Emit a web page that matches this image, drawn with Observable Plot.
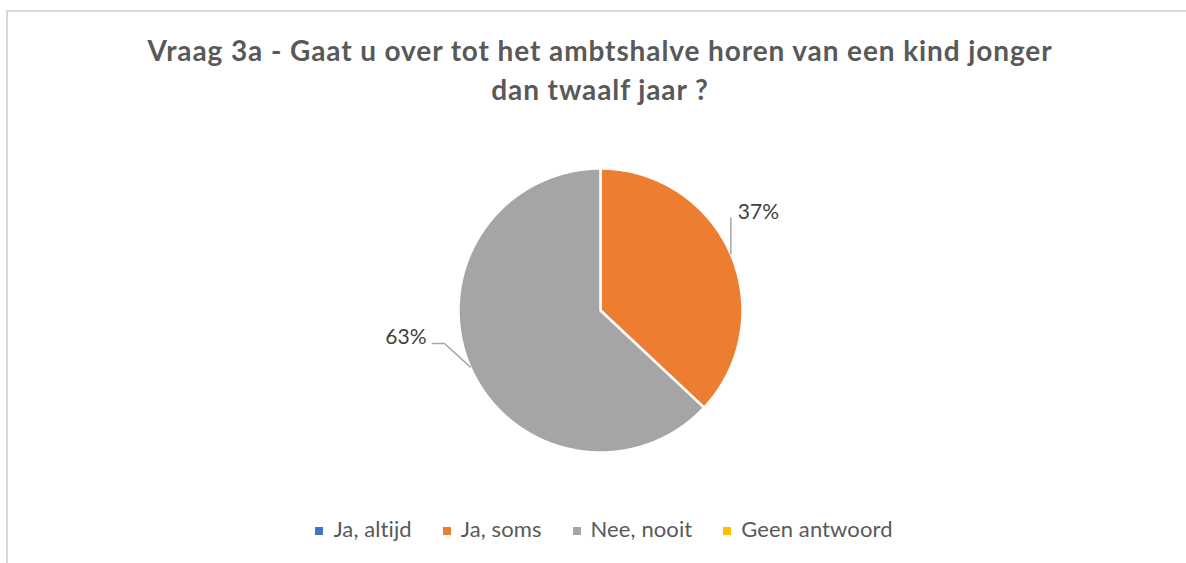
<!DOCTYPE html>
<html>
<head>
<meta charset="utf-8">
<script src="https://cdn.jsdelivr.net/npm/d3@7"></script>
<script src="https://cdn.jsdelivr.net/npm/@observablehq/plot@0.6"></script>
<style>
  html, body { margin: 0; padding: 0; background: #fff; }
  #wrap { position: relative; width: 1186px; height: 563px; overflow: hidden; background: #fff; }
  #frame { position: absolute; left: 6px; top: 10px; width: 1200px; height: 600px; border-left: 2px solid #d9d9d9; border-top: 2px solid #d9d9d9; }
  #title { position: absolute; left: 0; top: 31px; width: 1200px; text-align: center; font-family: Lato, sans-serif; font-weight: bold; font-size: 28px; letter-spacing: 0.9px; line-height: 39px; color: #595959; }
  #chart { position: absolute; left: 0; top: 115px; }
  #legend { position: absolute; left: 0; top: 515px; width: 1208px; display: flex; justify-content: center; gap: 31px; font-family: Lato, sans-serif; font-size: 22px; letter-spacing: 0.1px; color: #595959; line-height: 28px; }
  .item { display: flex; align-items: center; gap: 10px; }
  .sw { width: 8px; height: 8px; display: inline-block; position: relative; top: 2px; }
</style>
</head>
<body>
<div id="wrap">
  <div id="frame"></div>
  <div id="title">Vraag 3a - Gaat u over tot het ambtshalve horen van een kind jonger<br>dan twaalf jaar ?</div>
  <div id="chart"></div>
  <div id="legend"></div>
</div>
<script>
// ---- data ----
const categories = ["Ja, altijd", "Ja, soms", "Nee, nooit", "Geen antwoord"];
const values = [0, 37, 63, 0];

// ---- style ----
const colors = ["#4472C4", "#ED7D31", "#A5A5A5", "#FFC000"];
const R = 142;
// label layout offsets relative to slice mid-arc point (data units, y up)
const labelLayout = {
  "Ja, soms":   {leader: [[0, 0], [0, 36]], text: [7, 42], anchor: "start"},
  "Nee, nooit": {leader: [[0, 0], [-25.7, 23.4], [-37.7, 23.4]], text: [-43.7, 29.4], anchor: "end"}
};

const data = categories.map((c, i) => ({name: c, value: values[i], color: colors[i]}));
const total = d3.sum(values);
const arcs = d3.pie().sort(null).value(d => d.value)(data);

const sliceMarks = [];
const leaderPts = [];
const labels = [];
arcs.forEach(a => {
  if (a.value <= 0) return;
  const pts = [{x: 0, y: 0}];
  const n = Math.max(2, Math.ceil((a.endAngle - a.startAngle) / (Math.PI / 360)));
  for (let k = 0; k <= n; k++) {
    const t = a.startAngle + (a.endAngle - a.startAngle) * k / n;
    pts.push({x: R * Math.sin(t), y: R * Math.cos(t)});
  }
  sliceMarks.push(Plot.line(pts, {x: "x", y: "y", fill: a.data.color, stroke: "white", strokeWidth: 2.5, strokeLinejoin: "round", curve: "linear-closed"}));
  const mid = (a.startAngle + a.endAngle) / 2;
  const px = R * Math.sin(mid), py = R * Math.cos(mid);
  const lay = labelLayout[a.data.name];
  if (lay) {
    lay.leader.forEach(([dx, dy]) => leaderPts.push({x: px + dx, y: py + dy, s: a.data.name}));
    labels.push({x: px + lay.text[0], y: py + lay.text[1], anchor: lay.anchor, text: Math.round(a.value / total * 100) + "%"});
  }
});

const plot = Plot.plot({
  width: 1186,
  height: 390,
  margin: 0,
  x: {domain: [-600, 586], axis: null},
  y: {domain: [-195, 195], axis: null},
  style: {background: "transparent", fontFamily: "Lato, sans-serif"},
  marks: [
    ...sliceMarks,
    Plot.line(leaderPts, {x: "x", y: "y", z: "s", stroke: "#a6a6a6", strokeWidth: 1.5}),
    Plot.text(labels.filter(d => d.anchor === "start"), {x: "x", y: "y", text: "text", textAnchor: "start", fontSize: 21, fill: "#404040"}),
    Plot.text(labels.filter(d => d.anchor === "end"), {x: "x", y: "y", text: "text", textAnchor: "end", fontSize: 21, fill: "#404040"})
  ]
});
document.getElementById("chart").appendChild(plot);

const legend = d3.select("#legend");
data.forEach(d => {
  const it = legend.append("div").attr("class", "item");
  it.append("span").attr("class", "sw").style("background", d.color);
  it.append("span").text(d.name);
});
</script>
</body>
</html>
